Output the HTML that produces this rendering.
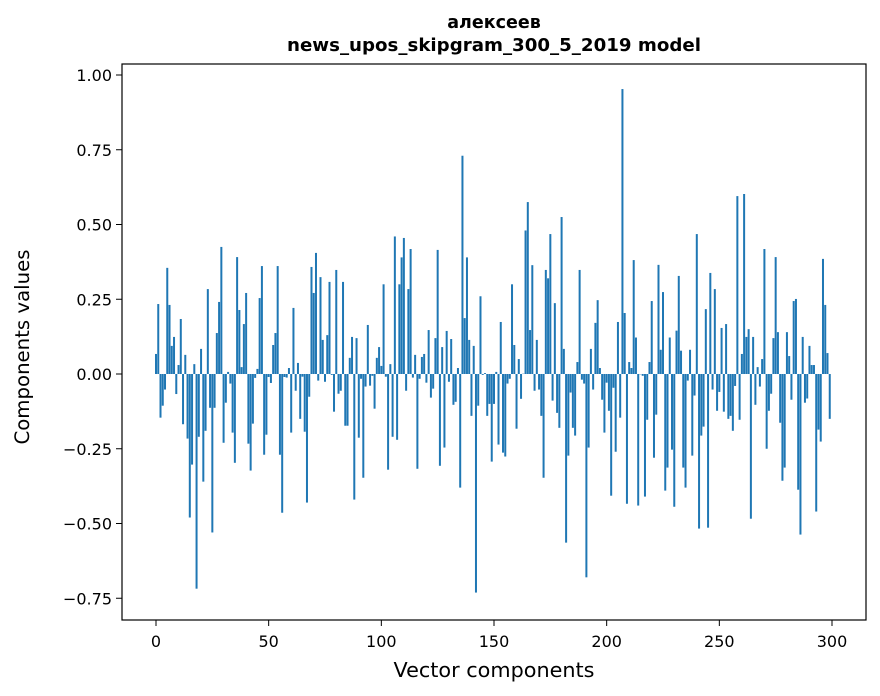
<!DOCTYPE html>
<html><head><meta charset="utf-8"><style>
body{margin:0;background:#fff;}
svg{display:block;font-family:"DejaVu Sans","Liberation Sans",sans-serif;}
</style></head><body>
<svg id="chart" width="880" height="696" viewBox="0 0 880 696" xmlns="http://www.w3.org/2000/svg">
<rect width="880" height="696" fill="#fff"/>
<text x="494" y="28" text-anchor="middle" font-size="17.5" font-weight="bold">алексеев</text>
<text x="494" y="51" text-anchor="middle" font-size="17.5" font-weight="bold" textLength="414" lengthAdjust="spacingAndGlyphs">news_upos_skipgram_300_5_2019 model</text>
<g id="bars"></g>
<g id="axes"></g>
<rect x="122" y="64" width="744" height="556" fill="none" stroke="#000" stroke-width="1.2"/>
<text x="494" y="677" text-anchor="middle" font-size="20" textLength="201" lengthAdjust="spacingAndGlyphs">Vector components</text>
<text transform="translate(29,347) rotate(-90)" text-anchor="middle" font-size="19.5" textLength="195" lengthAdjust="spacingAndGlyphs">Components values</text>
</svg>
<script>
const values = [
0.067,0.234,-0.146,-0.106,-0.052,0.355,0.231,0.094,0.124,-0.067,
0.03,0.184,-0.168,0.064,-0.216,-0.48,-0.303,0.033,-0.718,-0.21,
0.084,-0.36,-0.19,0.284,-0.113,-0.53,-0.113,0.137,0.241,0.425,
-0.23,-0.096,0.007,-0.032,-0.196,-0.297,0.391,0.214,0.023,0.167,
0.271,-0.233,-0.323,-0.166,-0.013,0.017,0.254,0.361,-0.27,-0.203,
-0.01,-0.03,0.097,0.137,0.361,-0.27,-0.464,-0.01,-0.012,0.02,
-0.196,0.221,-0.056,0.037,-0.15,-0.009,-0.193,-0.43,-0.076,0.358,
0.271,0.405,-0.022,0.324,0.114,-0.026,0.13,0.308,-0.003,-0.126,
0.348,-0.066,-0.056,0.308,-0.173,-0.173,0.054,0.124,-0.42,0.12,
-0.213,-0.016,-0.347,-0.042,0.164,-0.039,-0.006,-0.116,0.054,0.09,
0.027,0.30,-0.009,-0.32,0.033,-0.21,0.46,-0.22,0.30,0.39,
0.455,-0.056,0.284,0.418,-0.012,0.064,-0.317,-0.016,0.057,0.067,
-0.029,0.147,-0.079,-0.049,0.12,0.415,-0.307,0.09,-0.246,0.144,
-0.026,0.117,-0.103,-0.093,0.02,-0.38,0.73,0.187,0.39,0.114,
-0.14,0.094,-0.731,-0.106,0.26,-0.003,0.003,-0.14,-0.1,-0.293,
-0.1,0.007,-0.236,0.174,-0.263,-0.276,-0.032,-0.016,0.30,0.097,
-0.183,0.05,-0.083,0.001,0.48,0.575,0.147,0.364,-0.056,0.114,
-0.052,-0.14,-0.347,0.348,0.32,0.468,-0.089,0.237,-0.13,-0.18,
0.525,0.084,-0.564,-0.273,-0.062,-0.18,-0.206,0.04,0.348,-0.019,
-0.032,-0.68,-0.246,0.084,-0.052,0.171,0.247,0.02,-0.086,-0.196,
-0.029,-0.123,-0.407,-0.046,-0.26,0.174,-0.146,0.953,0.204,-0.434,
0.04,0.02,0.381,0.122,-0.44,0,-0.006,-0.41,-0.153,0.04,
0.244,-0.28,-0.136,0.365,0.081,0.274,-0.39,-0.313,0.122,-0.253,
-0.444,0.145,0.328,0.078,-0.313,-0.38,-0.022,0.081,-0.273,-0.072,
0.468,-0.517,-0.206,-0.176,0.217,-0.514,0.338,-0.052,0.284,-0.123,
-0.06,0.154,-0.126,0.167,-0.15,-0.14,-0.19,-0.04,0.595,-0.153,
0.067,0.602,0.124,0.15,-0.484,0.124,-0.103,0.023,-0.042,0.05,
0.418,-0.25,-0.123,-0.066,0.12,0.391,0.14,-0.163,-0.357,-0.313,
0.14,0.06,-0.086,0.244,0.251,-0.387,-0.537,0.124,-0.096,-0.082,
0.094,0.03,0.03,-0.46,-0.186,-0.226,0.385,0.231,0.07,-0.15
];
const yTicks = [1.00,0.75,0.50,0.25,0.00,-0.25,-0.50,-0.75];
const xTicks = [0,50,100,150,200,250,300];

const NS = "http://www.w3.org/2000/svg";
function xScale(v){ return 156 + v*(832-156)/300; }
function yScale(v){ return 374 - v*299; }

const barsG = document.getElementById('bars');
values.forEach(function(v,i){
  const r = document.createElementNS(NS,'rect');
  const y0 = yScale(0), y1 = yScale(v);
  r.setAttribute('x', xScale(i) - 1);
  r.setAttribute('width', 2);
  r.setAttribute('y', Math.min(y0,y1));
  r.setAttribute('height', Math.max(Math.abs(y1-y0),0.3));
  r.setAttribute('fill', '#1f77b4');
  
  
  barsG.appendChild(r);
});

const axesG = document.getElementById('axes');
yTicks.forEach(function(t){
  const y = yScale(t);
  const l = document.createElementNS(NS,'line');
  l.setAttribute('x1',116); l.setAttribute('x2',122);
  l.setAttribute('y1',y); l.setAttribute('y2',y);
  l.setAttribute('stroke','#000');
  
  
  axesG.appendChild(l);
  const tx = document.createElementNS(NS,'text');
  tx.setAttribute('x',112); tx.setAttribute('y',y+6);
  tx.setAttribute('text-anchor','end'); tx.setAttribute('font-size','16');
  tx.textContent = (t<0?'\u2212':'') + Math.abs(t).toFixed(2);
  
  
  axesG.appendChild(tx);
});
xTicks.forEach(function(t){
  const x = xScale(t);
  const l = document.createElementNS(NS,'line');
  l.setAttribute('x1',x); l.setAttribute('x2',x);
  l.setAttribute('y1',620); l.setAttribute('y2',626);
  l.setAttribute('stroke','#000');
  
  
  axesG.appendChild(l);
  const tx = document.createElementNS(NS,'text');
  tx.setAttribute('x',x); tx.setAttribute('y',647);
  tx.setAttribute('text-anchor','middle'); tx.setAttribute('font-size','16');
  tx.textContent = t;
  
  
  axesG.appendChild(tx);
});
</script>
</body></html>
